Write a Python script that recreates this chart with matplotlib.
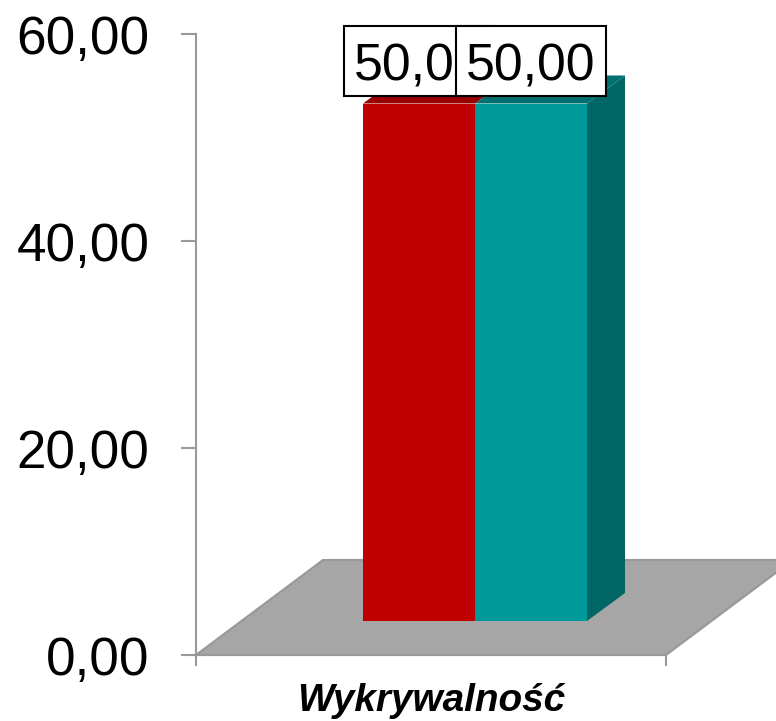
import matplotlib
matplotlib.use("Agg")
import matplotlib.pyplot as plt
from matplotlib.patches import Polygon, Rectangle

plt.rcParams['font.family'] = ['Liberation Sans', 'DejaVu Sans']

category = "Wykrywalność"
series_values = [50.0, 50.0]
series_colors = ["#C00000", "#009999"]
top_colors = ["#990000", "#006F6F"]
side_color = "#006666"
y_ticks = [0, 20, 40, 60]

W, H = 776, 721
fig = plt.figure(figsize=(W / 100, H / 100), dpi=100)
L, R, T, B = 196, 666, 34, 655
ax = fig.add_axes([L / W, 1 - B / H, (R - L) / W, (B - T) / H])
ax.set_xlim(0, 1)
ax.set_ylim(0, 60)

# pixel -> data helpers for the oblique projection
ux = (R - L)          # px per x unit
uy = (B - T) / 60     # px per y unit
bar_w = 112 / ux
bar_x0 = (363 - L) / ux
base = 34 / uy        # lift of the bars' front face from the floor's front edge
ddx, ddy = 38 / ux, 28 / uy      # bar depth
fdx, fdy = 127 / ux, 95 / uy     # floor depth

# floor
ax.add_patch(Polygon([(0, 0), (1, 0), (1 + fdx, fdy), (fdx, fdy)], closed=True,
                     facecolor="#A6A6A6", edgecolor="#989898", lw=1.5,
                     clip_on=False, zorder=1))

# top faces and right side
for i, v in enumerate(series_values):
    x0 = bar_x0 + i * bar_w
    top = v + base
    ax.add_patch(Polygon([(x0, top), (x0 + bar_w, top),
                          (x0 + bar_w + ddx, top + ddy), (x0 + ddx, top + ddy)],
                         closed=True, facecolor=top_colors[i], edgecolor="none",
                         clip_on=False, zorder=2))
xr = bar_x0 + len(series_values) * bar_w
v = series_values[-1]
ax.add_patch(Polygon([(xr, base), (xr + ddx, base + ddy),
                      (xr + ddx, v + base + ddy), (xr, v + base)],
                     closed=True, facecolor=side_color, edgecolor="none",
                     clip_on=False, zorder=2))
# front faces
for i, v in enumerate(series_values):
    ax.bar(bar_x0 + i * bar_w, v, width=bar_w, align="edge", bottom=base,
           color=series_colors[i], clip_on=False, zorder=3)

# data labels: the second box overlaps the end of the first, as in the source
box_left = [(344 - L) / ux, (456 - L) / ux]
box_w = 150 / ux
box_bottom = (B - 96) / uy
box_h = 70.5 / uy
for i, v in enumerate(series_values):
    ax.add_patch(Rectangle((box_left[i], box_bottom), box_w, box_h, facecolor="white",
                           edgecolor="black", lw=1.5, clip_on=False, zorder=5 + 2 * i))
    ax.text(box_left[i] + box_w / 2, (B - 80) / uy, f"{v:.2f}".replace(".", ","),
            ha="center", va="baseline", fontsize=37.4, color="black",
            clip_on=False, zorder=6 + 2 * i)

# axes
for s in ("top", "right"):
    ax.spines[s].set_visible(False)
for s in ("left", "bottom"):
    ax.spines[s].set_color("#999999")
    ax.spines[s].set_linewidth(1.5)
ax.spines["bottom"].set_zorder(1.5)
ax.patch.set_visible(False)

ax.set_yticks(y_ticks)
ax.set_yticklabels([f"{t:.2f}".replace(".", ",") for t in y_ticks], fontsize=38.2, color="black")
ax.tick_params(axis="y", length=10.5, width=1.5, color="#999999", pad=23)
ax.set_xticks([0, 1])
ax.set_xticklabels(["", ""])
ax.tick_params(axis="x", which="major", length=8, width=1.5, color="#999999")
ax.set_xticks([0.5], minor=True)
ax.set_xticklabels([category], minor=True, fontsize=27.9, fontweight="bold", fontstyle="italic")
ax.tick_params(axis="x", which="minor", length=0, pad=20)

fig.savefig("out.png", dpi=100)
